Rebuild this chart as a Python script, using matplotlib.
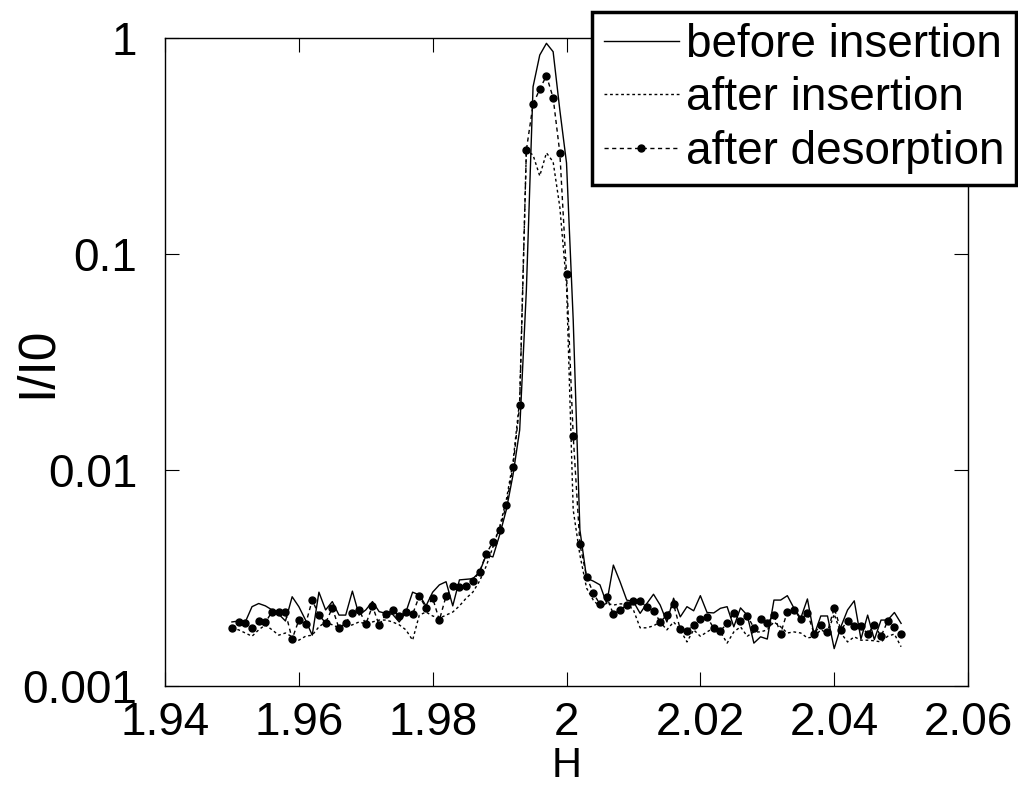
import numpy as np
import matplotlib
matplotlib.use("Agg")
import matplotlib.pyplot as plt

plt.rcParams['font.family'] = ['Liberation Sans', 'DejaVu Sans']

# scan coordinate H (1.950 ... 2.050, step 0.001)
h = np.linspace(1.95, 2.05, 101)

before_insertion = [
    0.00198, 0.00200, 0.00198, 0.00233, 0.00241, 0.00235, 0.00225, 0.00215, 0.00200, 0.00259,
    0.00233, 0.00202, 0.00172, 0.00272, 0.00225, 0.00246, 0.00213, 0.00213, 0.00275, 0.00213,
    0.00225, 0.00246, 0.00221, 0.00217, 0.00215, 0.00198, 0.00220, 0.00272, 0.00264, 0.00235,
    0.00272, 0.00294, 0.00304, 0.00235, 0.00310, 0.00312, 0.00314, 0.00337, 0.00404, 0.00396,
    0.00500, 0.00653, 0.00948, 0.01532, 0.0681, 0.595, 0.834, 0.945, 0.864, 0.464,
    0.264, 0.0495, 0.00528, 0.00316, 0.00306, 0.00294, 0.00241, 0.00363, 0.00304, 0.00250,
    0.00246, 0.00217, 0.00241, 0.00266, 0.00237, 0.00198, 0.00255, 0.00209, 0.00233, 0.00223,
    0.00262, 0.00219, 0.00218, 0.00229, 0.00233, 0.00188, 0.00230, 0.00213, 0.00158, 0.00169,
    0.00165, 0.00250, 0.00250, 0.00262, 0.00229, 0.00206, 0.00253, 0.00172, 0.00211, 0.00211,
    0.00149, 0.00188, 0.00225, 0.00248, 0.00165, 0.00213, 0.00164, 0.00202, 0.00202, 0.00219,
    0.00195,
]

after_insertion = [
    0.00185, 0.00182, 0.00176, 0.00170, 0.00182, 0.00192, 0.00182, 0.00172, 0.00176, 0.00169,
    0.00163, 0.00170, 0.00172, 0.00188, 0.00198, 0.00192, 0.00186, 0.00188, 0.00192, 0.00198,
    0.00194, 0.00198, 0.00202, 0.00202, 0.00198, 0.00192, 0.00182, 0.00163, 0.00213, 0.00220,
    0.00211, 0.00206, 0.00213, 0.00220, 0.00235, 0.00255, 0.00272, 0.00306, 0.00359, 0.00440,
    0.00545, 0.00726, 0.01089, 0.0211, 0.303, 0.287, 0.230, 0.294, 0.267, 0.165,
    0.0719, 0.00653, 0.00404, 0.00284, 0.00250, 0.00232, 0.00242, 0.00237, 0.00240, 0.00240,
    0.00225, 0.00186, 0.00186, 0.00190, 0.00198, 0.00182, 0.00198, 0.00182, 0.00160, 0.00182,
    0.00170, 0.00178, 0.00186, 0.00178, 0.00158, 0.00178, 0.00188, 0.00170, 0.00178, 0.00178,
    0.00182, 0.00198, 0.00188, 0.00176, 0.00178, 0.00176, 0.00167, 0.00169, 0.00182, 0.00176,
    0.00215, 0.00176, 0.00160, 0.00169, 0.00163, 0.00163, 0.00162, 0.00160, 0.00170, 0.00174,
    0.00152,
]

after_desorption = [
    0.00185, 0.00198, 0.00195, 0.00185, 0.00200, 0.00197, 0.00221, 0.00219, 0.00219, 0.00165,
    0.00202, 0.00193, 0.00250, 0.00213, 0.00196, 0.00230, 0.00185, 0.00196, 0.00218, 0.00226,
    0.00193, 0.00235, 0.00191, 0.00215, 0.00225, 0.00211, 0.00220, 0.00215, 0.00261, 0.00230,
    0.00255, 0.00202, 0.00261, 0.00290, 0.00286, 0.00290, 0.00307, 0.00338, 0.00408, 0.00466,
    0.00528, 0.00689, 0.01036, 0.0200, 0.303, 0.493, 0.580, 0.669, 0.529, 0.294,
    0.0808, 0.01437, 0.00453, 0.00321, 0.00269, 0.00239, 0.00259, 0.00215, 0.00225, 0.00237,
    0.00248, 0.00247, 0.00233, 0.00223, 0.00198, 0.00213, 0.00239, 0.00183, 0.00180, 0.00192,
    0.00204, 0.00209, 0.00185, 0.00180, 0.00195, 0.00217, 0.00200, 0.00212, 0.00186, 0.00205,
    0.00196, 0.00213, 0.00175, 0.00221, 0.00225, 0.00204, 0.00217, 0.00175, 0.00192, 0.00178,
    0.00230, 0.00182, 0.00200, 0.00190, 0.00190, 0.00174, 0.00192, 0.00170, 0.00200, 0.00187,
    0.00175,
]

x_ticks = [1.94, 1.96, 1.98, 2.0, 2.02, 2.04, 2.06]
x_labels = ["1.94", "1.96", "1.98", "2", "2.02", "2.04", "2.06"]
y_ticks = [0.001, 0.01, 0.1, 1]
y_labels = ["0.001", "0.01", "0.1", "1"]

fig = plt.figure(figsize=(10.18, 7.87), dpi=100)
ax = fig.add_axes([0.1621, 0.1283, 0.7888, 0.8234])

ax.plot(h, before_insertion, color='black', lw=1.0, ls='-', label='before insertion')
ax.plot(h, after_insertion, color='black', lw=1.0, ls=(0, (2, 2)), label='after insertion')
ax.plot(h, after_desorption, color='black', lw=1.0, ls=(0, (3, 2.5)),
        marker='o', markersize=5, label='after desorption')

ax.set_yscale('log')
ax.set_xlim(1.94, 2.06)
ax.set_ylim(0.001, 1)
ax.set_xticks(x_ticks)
ax.set_xticklabels(x_labels)
ax.set_yticks(y_ticks)
ax.set_yticklabels(y_labels)
ax.minorticks_off()
ax.tick_params(which='major', direction='in', length=10, width=0.8,
               top=True, right=True, labelsize=33)
ax.tick_params(axis='x', pad=11)
ax.tick_params(axis='y', pad=20)

for sp in ax.spines.values():
    sp.set_linewidth(1.0)

ax.set_xlabel('H', fontsize=30)
ax.xaxis.set_label_coords(0.5, -0.092)
ax.set_ylabel('I/I0', fontsize=37)
ax.yaxis.set_label_coords(-0.128, 0.5)

leg = ax.legend(loc='upper right', bbox_to_anchor=(0.998, 0.985),
                bbox_transform=fig.transFigure, fontsize=33,
                handlelength=1.65, handletextpad=0.15, labelspacing=0.2,
                borderpad=0.25, borderaxespad=0, fancybox=False,
                framealpha=1, edgecolor='black')
leg.get_frame().set_linewidth(2.5)

fig.savefig('out.png', dpi=100)
